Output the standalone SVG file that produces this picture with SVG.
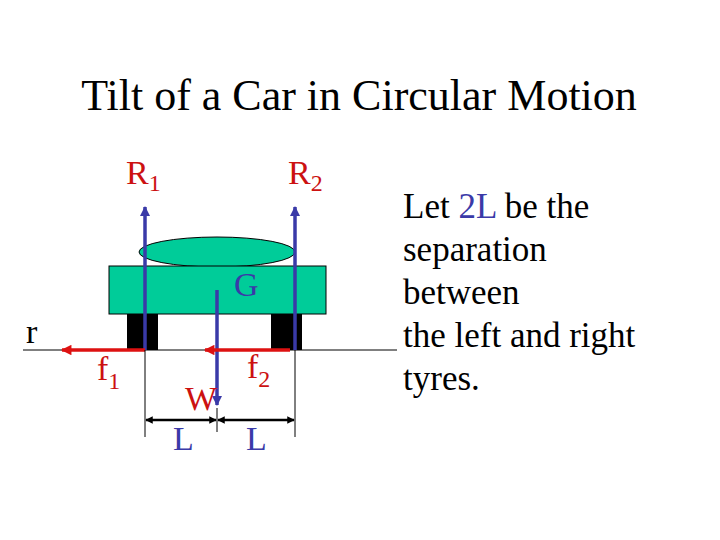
<svg xmlns="http://www.w3.org/2000/svg" width="720" height="540" viewBox="0 0 720 540">
<style>
text{font-family:"Liberation Serif",serif}
.red{fill:#cc1111}.blue{fill:#3a3aa8}.blk{fill:#000}
.lab{font-size:34px}
.car{fill:#00cc99;stroke:#000;stroke-width:1}
.fb{stroke:#3a3aa8;stroke-width:3.5;fill:none}
.fr{stroke:#dd1111;stroke-width:3.5;fill:none}
.dim{stroke:#000;stroke-width:1;fill:none}
.dimb{stroke:#000;stroke-width:2.5;fill:none}
</style>
<defs>
<marker id="ab" viewBox="0 0 10 10" refX="9" refY="5" markerWidth="3" markerHeight="3" orient="auto"><path d="M0,0L10,5L0,10z" fill="#3a3aa8"/></marker>
<marker id="ar" viewBox="0 0 10 10" refX="9" refY="5" markerWidth="3.5" markerHeight="3" orient="auto"><path d="M0,0L10,5L0,10z" fill="#dd1111"/></marker>
<marker id="ak" viewBox="0 0 10 10" refX="9" refY="5" markerWidth="3" markerHeight="3" orient="auto-start-reverse"><path d="M0,0L10,5L0,10z" fill="#000"/></marker>
</defs>
<rect width="720" height="540" fill="#fff"/>
<text x="359" y="110" font-size="44" text-anchor="middle">Tilt of a Car in Circular Motion</text>
<g id="car">
<ellipse class="car" cx="217" cy="252" rx="78" ry="15"/>
<rect class="car" x="109" y="266" width="217" height="48"/>
<rect x="127" y="314" width="31" height="36" fill="#000"/>
<rect x="271" y="314" width="31" height="36" fill="#000"/>
</g>
<g id="ground"><line class="dim" x1="23" y1="350" x2="397" y2="350"/></g>
<g id="connectors">
<line class="fb" x1="145" y1="350" x2="145" y2="207" marker-end="url(#ab)"/>
<line class="fb" x1="295" y1="350" x2="295" y2="207" marker-end="url(#ab)"/>
<line class="fb" x1="217" y1="290" x2="217" y2="405" marker-end="url(#ab)"/>
<line class="fr" x1="145" y1="350" x2="62" y2="350" marker-end="url(#ar)"/>
<line class="fr" x1="290" y1="350" x2="205" y2="350" marker-end="url(#ar)"/>
<line class="dim" x1="145" y1="350" x2="145" y2="437"/>
<line class="dim" x1="295" y1="350" x2="295" y2="437"/>
<line class="dim" x1="217" y1="408" x2="217" y2="432"/>
<line class="dimb" x1="146" y1="420" x2="216" y2="420" marker-start="url(#ak)" marker-end="url(#ak)"/>
<line class="dimb" x1="218" y1="420" x2="294" y2="420" marker-start="url(#ak)" marker-end="url(#ak)"/>
</g>
<g id="labels" class="lab">
<text class="red" x="126" y="184">R<tspan font-size="24" dy="7">1</tspan></text>
<text class="red" x="288" y="184">R<tspan font-size="24" dy="7">2</tspan></text>
<text class="blue" x="234" y="296">G</text>
<text class="blk" x="26" y="343">r</text>
<text class="red" x="97" y="380">f<tspan font-size="24" dy="9">1</tspan></text>
<text class="red" x="247" y="378">f<tspan font-size="24" dy="9">2</tspan></text>
<text class="red" x="185" y="410">W</text>
<text class="blue" x="173" y="450">L</text>
<text class="blue" x="246" y="450">L</text>
</g>
<g id="note" font-size="35">
<text x="403" y="218">Let <tspan class="blue">2L</tspan> be the</text>
<text x="403" y="261">separation</text>
<text x="403" y="304">between</text>
<text x="403" y="347">the left and right</text>
<text x="403" y="390">tyres.</text>
</g>
</svg>
